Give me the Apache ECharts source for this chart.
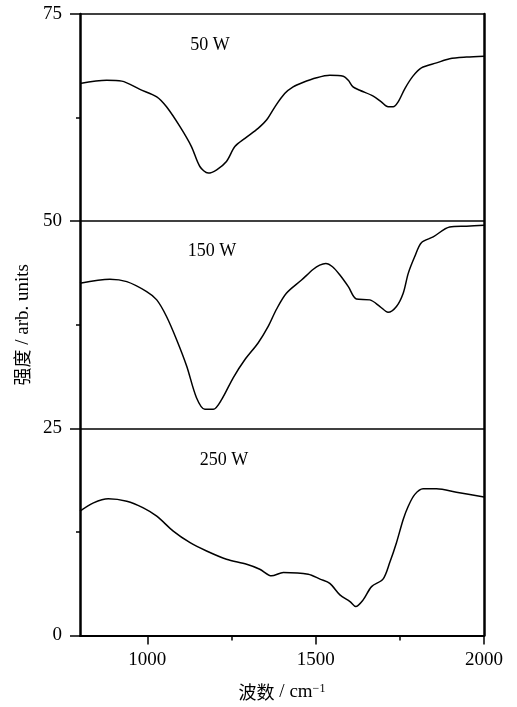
<!DOCTYPE html>
<html>
<head>
<meta charset="utf-8">
<script src="https://cdn.jsdelivr.net/npm/echarts@6/dist/echarts.min.js"></script>
<style>html,body{margin:0;padding:0;background:#fff;}#c{width:517px;height:707px;}</style>
</head>
<body>
<div id="c"></div>
<script>
var wn50 = [800, 879, 924, 978, 1028, 1057, 1097, 1131, 1156, 1181, 1206, 1235, 1260, 1290, 1329, 1354, 1379, 1408, 1433, 1460, 1503, 1542, 1582, 1597, 1611, 1631, 1671, 1695, 1715, 1730, 1745, 1765, 1789, 1814, 1859, 1898, 1948, 2000];
var int50 = [66.6, 67.0, 66.9, 65.9, 65.0, 63.8, 61.4, 59.0, 56.6, 55.8, 56.2, 57.2, 59.0, 60.0, 61.2, 62.2, 63.8, 65.4, 66.2, 66.7, 67.3, 67.6, 67.5, 67.0, 66.2, 65.8, 65.1, 64.4, 63.8, 63.8, 64.4, 66.0, 67.5, 68.5, 69.1, 69.6, 69.8, 69.9];

var wn150 = [800, 889, 939, 998, 1028, 1057, 1087, 1117, 1146, 1171, 1196, 1221, 1255, 1290, 1329, 1359, 1384, 1413, 1458, 1493, 1512, 1530, 1550, 1572, 1597, 1621, 1661, 1691, 1715, 1740, 1760, 1775, 1794, 1814, 1849, 1898, 1948, 2000];
var int150 = [42.5, 43.0, 42.7, 41.5, 40.5, 38.5, 35.7, 32.5, 28.7, 27.3, 27.3, 28.5, 31.1, 33.3, 35.3, 37.3, 39.4, 41.3, 42.9, 44.2, 44.7, 44.9, 44.5, 43.5, 42.1, 40.6, 40.5, 39.7, 39.0, 39.7, 41.3, 43.7, 45.7, 47.4, 48.1, 49.3, 49.4, 49.5];

var wn250 = [800, 840, 884, 939, 988, 1028, 1077, 1127, 1176, 1235, 1295, 1334, 1369, 1404, 1478, 1513, 1542, 1572, 1602, 1619, 1641, 1666, 1700, 1720, 1740, 1760, 1775, 1794, 1819, 1859, 1918, 2000];
var int250 = [15.0, 16.0, 16.5, 16.2, 15.4, 14.4, 12.6, 11.2, 10.2, 9.2, 8.6, 8.0, 7.2, 7.6, 7.4, 6.8, 6.3, 4.9, 4.1, 3.5, 4.3, 5.9, 6.8, 8.8, 11.2, 14.0, 15.6, 17.0, 17.7, 17.7, 17.3, 16.7];

var xMajorTicks = [1000, 1500, 2000];
var xMinorTicks = [1250, 1750];
var seriesLabels = ['50 W', '150 W', '250 W'];

function pairs(xs, ys) { return xs.map(function (x, i) { return [x, ys[i]]; }); }

var serif = '"Liberation Serif", "DejaVu Serif", serif';
var chart = echarts.init(document.getElementById('c'), null, { renderer: 'canvas' });

var lineSeries = function (xs, ys) {
  return {
    type: 'line', data: pairs(xs, ys), showSymbol: false, symbol: 'none', smooth: 0.3,
    lineStyle: { color: '#000', width: 1.5 }, silent: true, animation: false
  };
};

chart.setOption({
  animation: false,
  backgroundColor: '#fff',
  grid: { left: 80, right: 33, top: 14, bottom: 71, containLabel: false },
  xAxis: [{
    type: 'value', min: 800, max: 2000,
    axisLine: { show: true, lineStyle: { color: '#000', width: 2 } },
    axisTick: { show: true, customValues: xMajorTicks, length: 9, lineStyle: { color: '#000', width: 1.5 } },
    axisLabel: { customValues: xMajorTicks, formatter: function (v) { return String(v); }, color: '#000', fontFamily: serif, fontSize: 19, margin: 15 },
    splitLine: { show: false },
    name: '{a|波数}{b| / cm}{c|−1}', nameLocation: 'middle', nameGap: 47,
    nameTextStyle: {
      rich: {
        a: { fontFamily: '"Noto Sans CJK SC"', fontSize: 18, color: '#000' },
        b: { fontFamily: serif, fontSize: 19, color: '#000' },
        c: { fontFamily: serif, fontSize: 12, color: '#000', verticalAlign: 'top', padding: [0, 0, 8, 0] }
      }
    }
  }, {
    type: 'value', min: 800, max: 2000, position: 'bottom',
    axisLine: { show: false },
    axisTick: { show: true, customValues: xMinorTicks, length: 5, lineStyle: { color: '#000', width: 1.5 } },
    axisLabel: { show: false }, splitLine: { show: false }
  }],
  yAxis: [{
    type: 'value', min: 0, max: 75, interval: 25,
    axisLine: { show: true, lineStyle: { color: '#000', width: 2.5 } },
    axisTick: { show: true, length: 10, lineStyle: { color: '#000', width: 1.5 } },
    minorTick: { show: true, splitNumber: 2, length: 4, lineStyle: { color: '#000', width: 1.5 } },
    axisLabel: { color: '#000', fontFamily: serif, fontSize: 19, margin: 18 },
    splitLine: { show: true, lineStyle: { color: '#000', width: 1.5 } },
    name: '{a|强度}{b| / arb. units}', nameLocation: 'middle', nameGap: 47, nameRotate: 90,
    nameTextStyle: {
      rich: {
        a: { fontFamily: '"Noto Sans CJK SC"', fontSize: 18, color: '#000' },
        b: { fontFamily: serif, fontSize: 19, color: '#000' }
      }
    }
  }, {
    type: 'value', min: 0, max: 75, position: 'right',
    axisLine: { show: true, lineStyle: { color: '#000', width: 2.5 } },
    axisTick: { show: false }, axisLabel: { show: false }, splitLine: { show: false }
  }],
  series: [lineSeries(wn50, int50), lineSeries(wn150, int150), lineSeries(wn250, int250)],
  graphic: [
    { type: 'text', x: 210, y: 45, style: { text: seriesLabels[0], font: '18px ' + serif, fill: '#000', align: 'center', verticalAlign: 'middle' } },
    { type: 'text', x: 212, y: 251, style: { text: seriesLabels[1], font: '18px ' + serif, fill: '#000', align: 'center', verticalAlign: 'middle' } },
    { type: 'text', x: 224, y: 460, style: { text: seriesLabels[2], font: '18px ' + serif, fill: '#000', align: 'center', verticalAlign: 'middle' } }
  ]
});
</script>
</body>
</html>
